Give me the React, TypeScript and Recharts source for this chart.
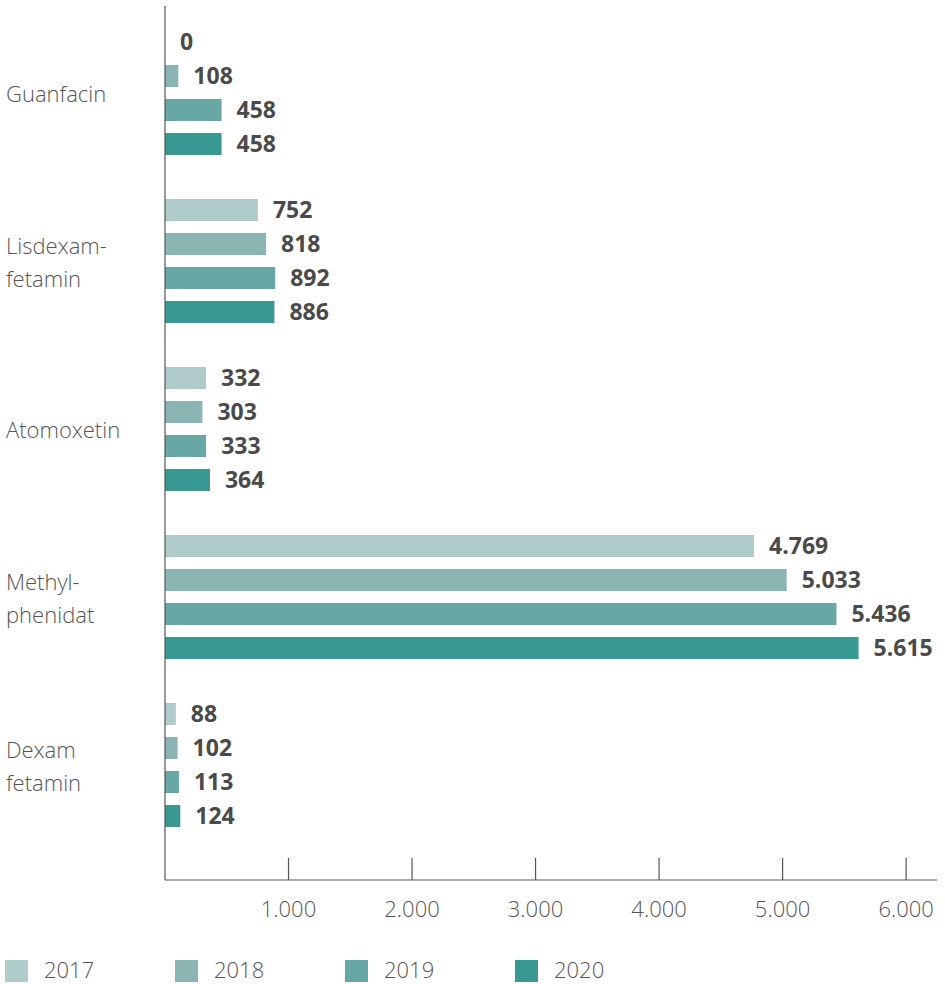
import React from 'react';
import { BarChart, Bar, XAxis, YAxis, LabelList } from 'recharts';

const categories = ['Guanfacin', 'Lisdexam-\nfetamin', 'Atomoxetin', 'Methyl-\nphenidat', 'Dexam\nfetamin'];
const years = ['2017', '2018', '2019', '2020'];
const values2017 = [0, 752, 332, 4769, 88];
const values2018 = [108, 818, 303, 5033, 102];
const values2019 = [458, 892, 333, 5436, 113];
const values2020 = [458, 886, 364, 5615, 124];
const xTicks = [1000, 2000, 3000, 4000, 5000, 6000];

const colors = ['#afcccb', '#8bb5b3', '#67a7a4', '#389892'];
const seriesValues = [values2017, values2018, values2019, values2020];

const data = categories.map((name, i) => {
  const row: Record<string, string | number> = { name };
  years.forEach((y, k) => {
    row[y] = seriesValues[k][i];
  });
  return row;
});

const FONT = '"Open Sans", sans-serif';

function formatDe(v: number | string) {
  return String(v).replace(/\B(?=(\d{3})+(?!\d))/g, '.');
}

function CategoryTick({ y, payload }: any) {
  const lines = String(payload.value).split('\n');
  const lineH = 33;
  const start = y - ((lines.length - 1) * lineH) / 2;
  return (
    <text x={6} y={start} fill="#555" fontSize={22} fontWeight={300} fontFamily={FONT} dominantBaseline="central">
      {lines.map((l, i) => (
        <tspan key={i} x={6} y={start + i * lineH}>
          {l}
        </tspan>
      ))}
    </text>
  );
}

function ValueTick({ x, y, payload }: any) {
  return (
    <g>
      <line x1={x} x2={x} y1={y - 22} y2={y} stroke="#555" strokeWidth={1.2} />
      <text x={x} y={y + 28} textAnchor="middle" fill="#555" fontSize={22} fontWeight={300} fontFamily={FONT} dominantBaseline="central">
        {formatDe(payload.value)}
      </text>
    </g>
  );
}

function LegendRow() {
  return (
    <g>
      {years.map((y, k) => (
        <g key={y}>
          <rect x={5 + k * 170} y={960} width={23} height={22} fill={colors[k]} />
          <text x={44 + k * 170} y={978} fill="#555" fontSize={22} fontWeight={300} fontFamily={FONT}>
            {y}
          </text>
        </g>
      ))}
    </g>
  );
}

// zero values still get a (hair-thin) bar so their label shows
const minSize = (v: any) => (Number(v) === 0 ? 0.01 : 0);

export default function App() {
  return (
    <div style={{ position: 'absolute', left: 0, top: 0, width: 945, height: 984, background: '#fff' }}>
      <BarChart
        width={945}
        height={984}
        data={data}
        layout="vertical"
        margin={{ top: 6, right: 8, left: 0, bottom: 44 }}
        barSize={22}
        barGap={12}
      >
        <XAxis
          type="number"
          domain={[0, 6250]}
          ticks={xTicks}
          tick={<ValueTick />}
          tickLine={false}
          tickSize={0}
          tickMargin={0}
          height={60}
          axisLine={{ stroke: '#555', strokeWidth: 1.2 }}
          allowDataOverflow
        />
        <YAxis
          type="category"
          dataKey="name"
          width={165}
          tick={<CategoryTick />}
          tickLine={false}
          axisLine={{ stroke: '#555', strokeWidth: 1.2 }}
          padding={{ top: 3, bottom: 31 }}
        />
        {years.map((y, k) => (
          <Bar key={y} dataKey={y} fill={colors[k]} minPointSize={minSize} isAnimationActive={false}>
            <LabelList
              dataKey={y}
              position="right"
              offset={15}
              formatter={(v: any) => formatDe(v)}
              style={{ fill: '#4a4a4a', fontSize: 23, fontWeight: 700, fontFamily: FONT }}
            />
          </Bar>
        ))}
        <LegendRow />
      </BarChart>
    </div>
  );
}
